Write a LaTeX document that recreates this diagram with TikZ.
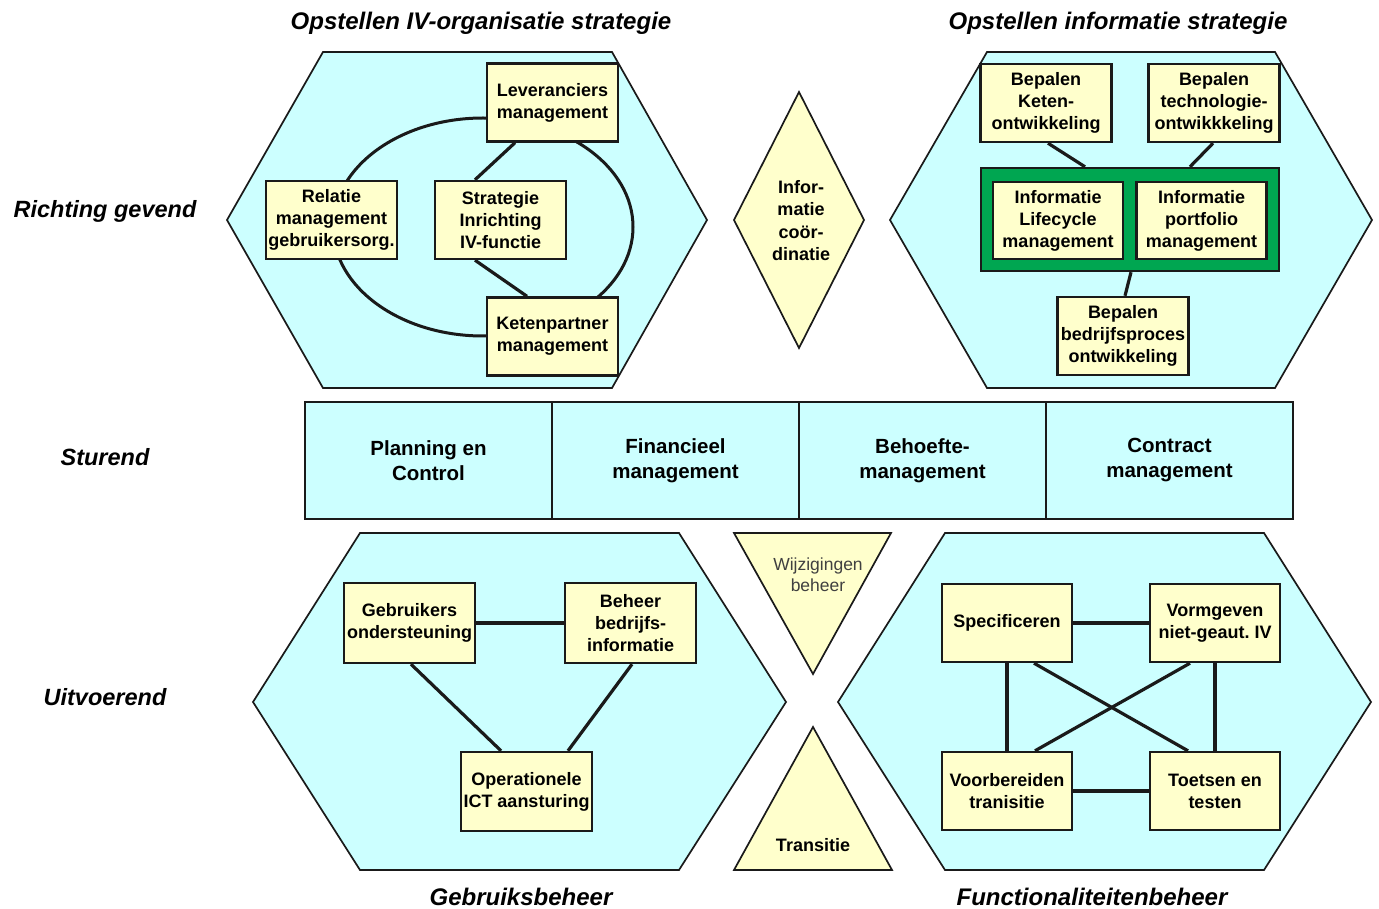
\documentclass[tikz,border=0pt]{standalone}
\usepackage{fontspec}
\setmainfont{Liberation Sans}
\usetikzlibrary{calc}
\definecolor{hexfill}{RGB}{204,255,255}
\definecolor{boxfill}{RGB}{255,255,204}
\definecolor{inkline}{RGB}{26,26,26}
\definecolor{greenframe}{RGB}{0,166,81}
\definecolor{softgray}{RGB}{64,64,64}
\frenchspacing

\begin{document}
\begin{tikzpicture}[x=1pt,y=-1pt,
  hexagon/.style={draw=inkline, fill=hexfill, line width=1.7pt, line join=miter},
  pointer/.style={draw=inkline, fill=boxfill, line width=1.7pt, line join=miter},
  taskbox/.style={draw=inkline, fill=boxfill, line width=2.4pt,
    minimum width=131pt, minimum height=78pt, inner sep=0pt, align=center,
    font=\fontsize{18}{22}\selectfont\bfseries, text=black},
  bandcell/.style={draw=inkline, fill=hexfill, line width=1.7pt,
    minimum width=247pt, minimum height=117pt, inner sep=0pt, align=center,
    font=\fontsize{20.5}{25}\selectfont\bfseries, text=black},
  link/.style={draw=inkline, line width=3.2pt},
  heading/.style={anchor=base, font=\fontsize{24}{28}\selectfont\bfseries\itshape, text=black},
  levellabel/.style={anchor=base, font=\fontsize{23.5}{28}\selectfont\bfseries\itshape, text=black}
]
\useasboundingbox (0,0) rectangle (1379,909);

% headings
\node[heading] (hIV) at (481,30) {Opstellen IV-organisatie strategie};
\node[heading] (hInfo) at (1118,30) {Opstellen informatie strategie};
\node[heading] (hGeb) at (521,905) {Gebruiksbeheer};
\node[heading] (hFun) at (1092,905) {Functionaliteitenbeheer};

% level labels
\node[levellabel] (lRicht) at (105,218) {Richting gevend};
\node[levellabel] (lStuur) at (105,465) {Sturend};
\node[levellabel] (lUitv) at (105,705) {Uitvoerend};

% hexagons
\draw[hexagon] (227,220) -- (323,52) -- (612,52) -- (707,220) -- (612,388) -- (323,388) -- cycle;
\draw[hexagon] (890,220) -- (987,52) -- (1275,52) -- (1372,220) -- (1275,388) -- (987,388) -- cycle;
\draw[hexagon] (253,702) -- (360,533) -- (679,533) -- (786,702) -- (679,870) -- (360,870) -- cycle;
\draw[hexagon] (838,702) -- (945,533) -- (1264,533) -- (1371,702) -- (1264,870) -- (945,870) -- cycle;

% information coordination diamond
\draw[pointer] (799,92) -- (864,220) -- (799,348) -- (734,220) -- cycle;
\node[align=center, font=\fontsize{18}{22.4}\selectfont\bfseries] (coord) at (801,220.5)
  {Infor-\\matie\\coör-\\dinatie};

% change management and transition triangles
\draw[pointer] (734,533) -- (891,533) -- (813,674) -- cycle;
\node[align=center, font=\fontsize{17.5}{21}\selectfont, text=softgray] (wijz) at (818,575)
  {Wijzigingen\\beheer};
\draw[pointer] (813,727) -- (892,870) -- (734,870) -- cycle;
\node[font=\fontsize{18}{22}\selectfont\bfseries] (trans) at (813,845) {Transitie};

% steering band
\node[bandcell] (pc) at (428.5,460.5) {Planning en\\Control};
\node[bandcell] (fin) at (675.5,460.5) {Financieel\\management};
\node[bandcell] (beh) at (922.5,460.5) {Behoefte-\\management};
\node[bandcell] (con) at (1169.5,460.5) {Contract\\management};

% IV organisation strategy
\draw[inkline, line width=3pt] (483,227) ellipse [x radius=150pt, y radius=109pt];
\node[taskbox] (lev) at (552.5,102.5) {Leveranciers\\management};
\node[taskbox] (rel) at (331.5,220) {Relatie\\management\\gebruikersorg.};
\node[taskbox] (strat) at (500.5,220) {Strategie\\Inrichting\\IV-functie};
\node[taskbox] (ket) at (552.5,336.5) {Ketenpartner\\management};
\draw[link] ([xshift=-37.5pt]lev.south) -- ([xshift=-25.5pt]strat.north);
\draw[link] ([xshift=-25.5pt]strat.south) -- ([xshift=-25.5pt]ket.north);

% information strategy
\node[taskbox] (keten) at (1046,103) {Bepalen\\Keten-\\ontwikkeling};
\node[taskbox] (tech) at (1214,103) {Bepalen\\technologie-\\ontwikkkeling};
\node[draw=inkline, fill=greenframe, line width=2.4pt, minimum width=298pt,
  minimum height=103pt, inner sep=0pt] (frame) at (1130,219.5) {};
\node[taskbox, minimum width=130pt, minimum height=77pt] (ilc) at (1058,220.5)
  {Informatie\\Lifecycle\\management};
\node[taskbox, minimum width=130pt, minimum height=77pt] (ipm) at (1201.5,220.5)
  {Informatie\\portfolio\\management};
\node[taskbox] (bedr) at (1123,336) {Bepalen\\bedrijfsproces\\ontwikkeling};
\draw[link] ([xshift=2pt]keten.south) -- ([xshift=-45pt]frame.north);
\draw[link] ([xshift=-1pt]tech.south) -- ([xshift=60pt]frame.north);
\draw[link] ([xshift=1pt]frame.south) -- ([xshift=2pt]bedr.north);

% user management
\node[taskbox, minimum height=80pt] (gebr) at (409.5,623) {Gebruikers\\ondersteuning};
\node[taskbox, minimum height=80pt] (bbi) at (630.5,623) {Beheer\\bedrijfs-\\informatie};
\node[taskbox, minimum height=79pt] (oper) at (526.5,791.5) {Operationele\\ICT aansturing};
\draw[link] (gebr.east) -- (bbi.west);
\draw[link] ([xshift=1.5pt]gebr.south) -- ([xshift=-25.5pt]oper.north);
\draw[link] ([xshift=1.5pt]bbi.south) -- ([xshift=41.5pt]oper.north);

% functionality management
\node[taskbox, minimum width=130pt] (spec) at (1007,623) {Specificeren};
\node[taskbox, minimum width=130pt] (vorm) at (1215,623) {Vormgeven\\niet-geaut. IV};
\node[taskbox, minimum width=130pt] (voorb) at (1007,791) {Voorbereiden\\tranisitie};
\node[taskbox, minimum width=130pt] (toets) at (1215,791) {Toetsen en\\testen};
\draw[link] (spec.east) -- (vorm.west);
\draw[link] (voorb.east) -- (toets.west);
\draw[link] (spec.south) -- (voorb.north);
\draw[link] (vorm.south) -- (toets.north);
\draw[link] ([xshift=27pt]spec.south) -- ([xshift=-27pt]toets.north);
\draw[link] ([xshift=-25pt]vorm.south) -- ([xshift=28pt]voorb.north);
\end{tikzpicture}
\end{document}
